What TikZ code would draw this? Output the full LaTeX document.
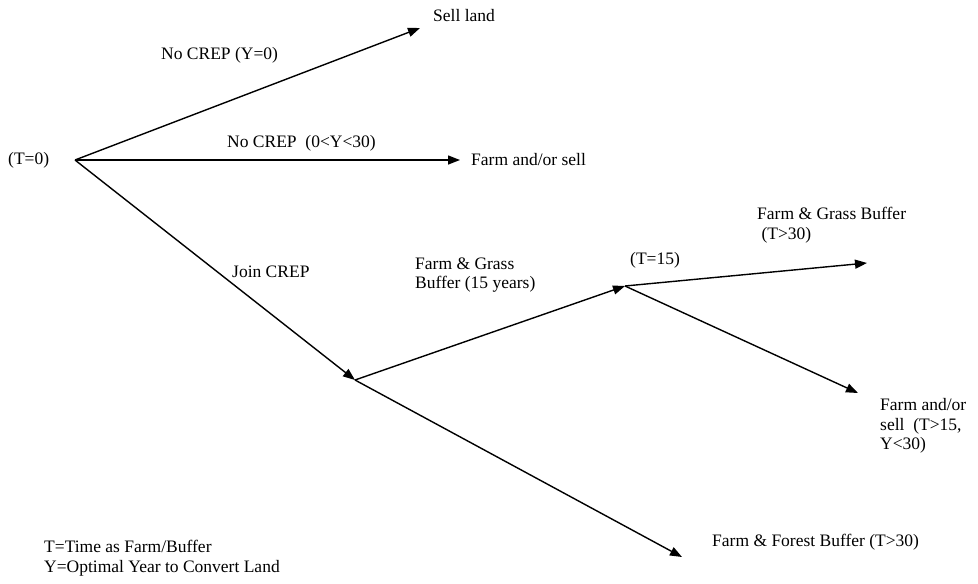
\documentclass[tikz,border=0pt]{standalone}
\usepackage{fontspec}
\setmainfont{Liberation Serif}
\usetikzlibrary{arrows.meta}
\tikzset{
  lbl/.style={inner sep=0pt, anchor=west, align=left, font=\fontsize{17.5}{19.5}\selectfont},
  branch/.style={line width=1.4pt, -{Triangle[length=12pt,width=9pt]}},
  plain/.style={line width=1.4pt}
}
\begin{document}
\begin{tikzpicture}[x=1pt,y=-1pt]
\useasboundingbox (0,0) rectangle (978,584);
% points
\coordinate (O) at (75,160);
\coordinate (sell) at (420,28);
\coordinate (farm) at (460,160);
\coordinate (J) at (355,380);
\coordinate (T15) at (625,286);
\coordinate (gb) at (867,263);
\coordinate (fs) at (858,393);
\coordinate (ff) at (682,557);
% connectors
\draw[branch] (O) -- (sell);
\draw[branch] (O) -- (farm);
\draw[branch] (O) -- (J);
\draw[branch] (J) -- (T15);
\draw[branch] (J) -- (ff);
\draw[branch] (T15) -- (gb);
\draw[branch] (T15) -- (fs);
% labels
\node[lbl] (t0) at (8,160) {(T=0)};
\node[lbl] (lsell) at (433,16) {Sell land};
\node[lbl] (ncy0) at (161,55) {No CREP (Y=0)};
\node[lbl] (ncy) at (227,143) {No CREP\ \ (0<Y<30)};
\node[lbl] (lfarm) at (471,160) {Farm and/or sell};
\node[lbl] (join) at (232,272) {Join CREP};
\node[lbl] (fg15) at (415,275) {Farm \& Grass\\Buffer (15 years)};
\node[lbl] (t15) at (630,260) {(T=15)};
\node[lbl] (lgb) at (757,225) {Farm \& Grass Buffer\\\ (T>30)};
\node[lbl] (lfs) at (880,426) {Farm and/or\\sell\ \ (T>15,\\Y<30)};
\node[lbl] (lff) at (712,542) {Farm \& Forest Buffer (T>30)};
\node[lbl] (legend) at (44,558) {T=Time as Farm/Buffer\\Y=Optimal Year to Convert Land};
\end{tikzpicture}
\end{document}
